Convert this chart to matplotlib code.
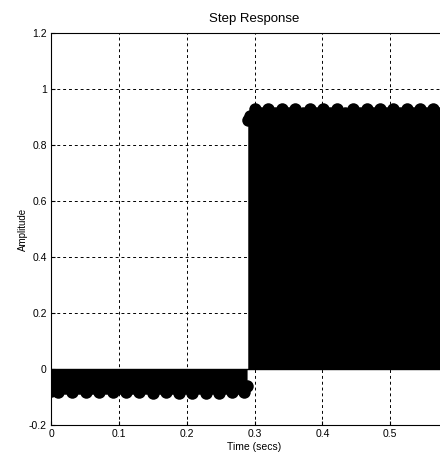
import matplotlib
matplotlib.use("Agg")
import matplotlib.pyplot as plt
import numpy as np

plt.rcParams['font.family'] = ['Liberation Sans', 'DejaVu Sans']

# samples before the step (t < 0.29): low peaks and high peaks
t_neg = [0.000, 0.000, 0.010, 0.021, 0.031, 0.041, 0.051, 0.061, 0.071, 0.081,
         0.091, 0.101, 0.111, 0.120, 0.130, 0.140, 0.150, 0.160, 0.169, 0.179,
         0.189, 0.198, 0.208, 0.218, 0.228, 0.237, 0.247, 0.257, 0.267, 0.276,
         0.285, 0.289]
y_neg = [-0.055, -0.078, -0.082, -0.068, -0.083, -0.068, -0.082, -0.068, -0.083, -0.068,
         -0.082, -0.068, -0.083, -0.068, -0.082, -0.068, -0.084, -0.068, -0.083, -0.068,
         -0.084, -0.068, -0.085, -0.069, -0.084, -0.068, -0.084, -0.068, -0.083, -0.068,
         -0.082, -0.062]

# samples after the step
t_pos = [0.290, 0.293, 0.301, 0.310, 0.320, 0.330, 0.341, 0.350, 0.360, 0.371,
         0.382, 0.391, 0.401, 0.411, 0.422, 0.433, 0.445, 0.455, 0.466, 0.475,
         0.485, 0.494, 0.504, 0.514, 0.525, 0.534, 0.544, 0.553, 0.563, 0.573,
         0.583, 0.600]
y_pos = [0.890, 0.902, 0.929, 0.916, 0.929, 0.916, 0.929, 0.916, 0.929, 0.916,
         0.929, 0.916, 0.929, 0.916, 0.929, 0.916, 0.929, 0.916, 0.929, 0.916,
         0.929, 0.916, 0.929, 0.916, 0.929, 0.916, 0.929, 0.916, 0.929, 0.916,
         0.929, 0.916]

xticks = [0, 0.1, 0.2, 0.3, 0.4, 0.5]
xtick_labels = ['0', '0.1', '0.2', '0.3', '0.4', '0.5']
yticks = [-0.2, 0, 0.2, 0.4, 0.6, 0.8, 1, 1.2]
ytick_labels = ['-0.2', '0', '0.2', '0.4', '0.6', '0.8', '1', '1.2']

fig = plt.figure(figsize=(4.4, 4.62), dpi=100)
ax = fig.add_axes([0.116, 0.080, 0.925, 0.8485])

ax.fill_between(t_neg, 0, y_neg, color='k', lw=0)
ax.fill_between(t_pos, 0, y_pos, color='k', lw=0)
ax.plot(t_neg, y_neg, 'o', color='k', ms=9, mew=0)
ax.plot(t_pos, y_pos, 'o', color='k', ms=9, mew=0)
ax.axhline(0, color='k', lw=1)

ax.set_xlim(0, 0.6)
ax.set_ylim(-0.2, 1.2)
ax.set_xticks(xticks)
ax.set_xticklabels(xtick_labels)
ax.set_yticks(yticks)
ax.set_yticklabels(ytick_labels)
ax.tick_params(direction='in', length=3, width=0.8, labelsize=7.5, pad=3)
ax.grid(True, color='k', linestyle=(0, (3, 3)), linewidth=0.7)
ax.set_axisbelow(False)
for s in ax.spines.values():
    s.set_linewidth(0.8)

ax.set_title('Step Response', fontsize=9.5, pad=8)
ax.set_xlabel('Time (secs)', fontsize=7.5, labelpad=2)
ax.set_ylabel('Amplitude', fontsize=7, labelpad=1)

fig.savefig('out.png', dpi=100)
